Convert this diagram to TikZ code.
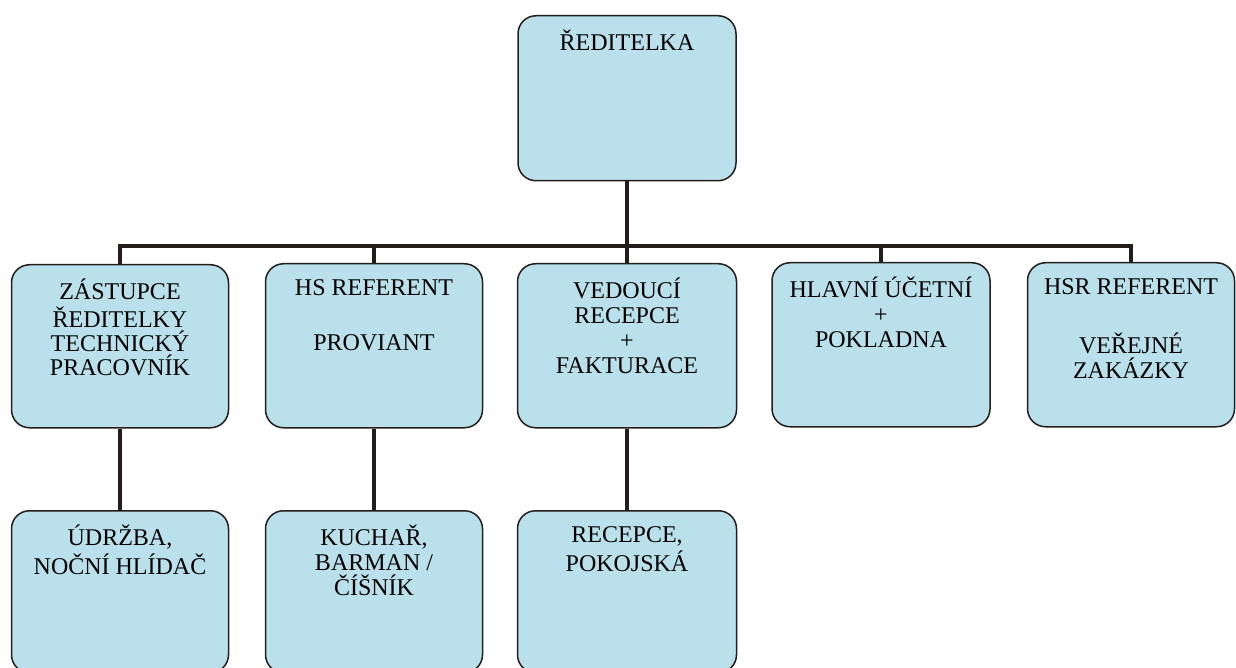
\documentclass[tikz,border=0pt]{standalone}
\usepackage{fontspec}
\setmainfont{Liberation Serif}

\definecolor{boxblue}{RGB}{186,224,235}
\definecolor{linedark}{RGB}{35,30,28}

\tikzset{
	unit/.style = {draw = linedark, line width = 1.5pt, fill = boxblue,
				   rounded corners = 18pt, inner sep = 0pt, anchor = north},
	link/.style = {draw = linedark, line width = 4pt}
}

% box text: width, height, lines (set from the top)
\newcommand{\entry}[3][217pt]{\parbox[c][#2][t]{#1}{\centering
	\fontsize{24}{25}\selectfont\vspace*{14pt}\strut#3}}

\begin{document}
\begin{tikzpicture}[x = 1pt, y = -1pt]
	\useasboundingbox (0,0) rectangle (1236,668);

	\draw (627,15) node[unit] (boss) {\entry[218pt]{165pt}{ŘEDITELKA}};

	% second row
	\draw (120,264) node[unit] (zas) {\entry{163pt}{ZÁSTUPCE\\[-1pt]
		ŘEDITELKY\\[-1pt] TECHNICKÝ\\[-1pt] PRACOVNÍK}};
	\draw (374,263) node[unit] (hs) {\entry{164pt}{HS REFERENT\\[30pt]
		PROVIANT}};
	\draw (627,263) node[unit] (ved) {\entry[219pt]{164pt}{VEDOUCÍ\\
		RECEPCE\\ +\\ FAKTURACE}};
	\draw (881,262) node[unit] (hla) {\entry[218pt]{164pt}{HLAVNÍ ÚČETNÍ\\
		+\\ POKLADNA}};
	\draw (1131,262) node[unit] (hsr) {\entry[207pt]{164pt}{HSR REFERENT\\[30pt]
		VEŘEJNÉ\\ ZAKÁZKY}};

	% third row
	\draw (120,510) node[unit] (udr) {\entry{162pt}{ÚDRŽBA,\\
		NOČNÍ HLÍDAČ}};
	\draw (374,510) node[unit] (kuch) {\entry{162pt}{KUCHAŘ,\\
		BARMAN /\\ ČÍŠNÍK}};
	\draw (627,510) node[unit] (rec) {\entry[219pt]{162pt}{RECEPCE,\\
		POKOJSKÁ}};

	\draw[link] (boss.south) -- ++(0,65) coordinate (bus);
	\foreach \n in {zas, hs, ved, hla, hsr}
		\draw[link] (bus) -| (\n.north);

	\foreach \a/\b in {zas/udr, hs/kuch, ved/rec}
		\draw[link] (\a.south) -- (\b.north);
\end{tikzpicture}
\end{document}
